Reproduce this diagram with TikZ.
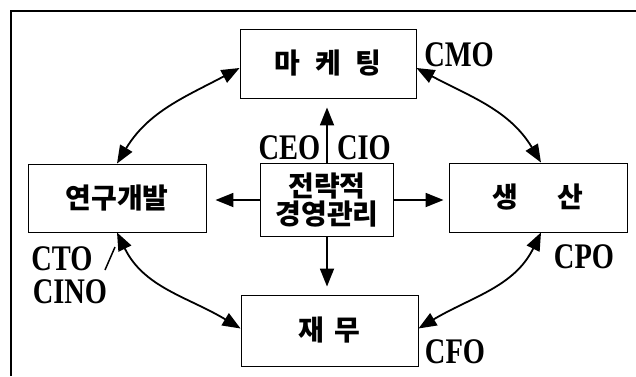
\documentclass[tikz,border=0pt]{standalone}
\usepackage{fontspec}
\setmainfont{Liberation Serif}
\newfontfamily\latf[FakeStretch=0.79]{Liberation Serif}
\newfontfamily\krf{Noto Sans CJK KR}
\usetikzlibrary{arrows.meta,calc}
\tikzset{
  box/.style={draw, line width=0.9pt, inner sep=0pt, font=\krf\bfseries\fontsize{28}{25}\selectfont},
  lbl/.style={inner sep=0pt, font=\latf\bfseries\fontsize{36}{36}\selectfont},
  tip/.style={Triangle[length=18pt,width=14pt]},
  arr/.style={line width=1.8pt, -{Triangle[length=18pt,width=14pt]}},
  darr/.style={line width=1.8pt, {Triangle[length=18pt,width=14pt]}-{Triangle[length=18pt,width=14pt]}},
}
\begin{document}
\begin{tikzpicture}[x=1pt,y=1pt]
\useasboundingbox (0,0) rectangle (636,376);
\draw[line width=2pt] (11,0) -- (11,365) -- (636,365);
\node[box, minimum width=176pt, minimum height=69pt] (mk) at (328,312.5) {마\hspace{15pt}케\hspace{15pt}팅};
\node[box, minimum width=178pt, minimum height=68pt] (rd) at (117,178) {연구개발};
\node[box, minimum width=133pt, minimum height=73pt, align=center] (ct) at (327,176) {전략적\\경영관리};
\node[box, minimum width=178pt, minimum height=69pt] (pr) at (538,178.5) {생\hspace{40pt}산};
\node[box, minimum width=177pt, minimum height=71pt] (fi) at (329.5,45.5) {재\hspace{11pt}무};
% straight arrows
\draw[arr, shorten >=9pt] (ct.north) -- (ct.north |- mk.south);
\draw[arr, shorten >=9pt] (ct.west) -- (ct.west -| rd.east);
\draw[arr, shorten >=5pt] (ct.east) -- (ct.east -| pr.west);
\draw[arr, shorten >=8pt] (ct.south) -- (ct.south |- fi.north);
% curved arrows
\coordinate (mkw) at ($(mk.west)+(0,-4.5)$);
\coordinate (mke) at ($(mk.east)+(0,-4.5)$);
\coordinate (fiw) at ($(fi.west)+(0,2)$);
\coordinate (fie) at ($(fi.east)+(0,2)$);
\draw[darr] (rd.north) to[out=59, in=208] (mkw);
\draw[darr] (mke) to[out=-28, in=121] ($(pr.north)+(3,0)$);
\draw[darr] ($(pr.south)+(3,0)$) to[out=244, in=31] (fie);
\draw[darr] (rd.south) to[out=-64, in=149] (fiw);
% labels
\node[lbl] (cmo) at (459,321) {CMO};
\node[lbl] (cpo) at (584,119) {CPO};
\node[lbl] (cfo) at (455,24) {CFO};
\node[lbl] (cto) at (62,117) {CTO};
\node[lbl] (cino) at (70,84) {CINO};
\node[lbl] (ceo) at (289.5,228) {CEO};
\node[lbl] (cio) at (364,228) {CIO};
\coordinate (s1) at (105,106);
\coordinate (s2) at (115,129);
\draw[line width=1.5pt] (s1) -- (s2);
\end{tikzpicture}
\end{document}
